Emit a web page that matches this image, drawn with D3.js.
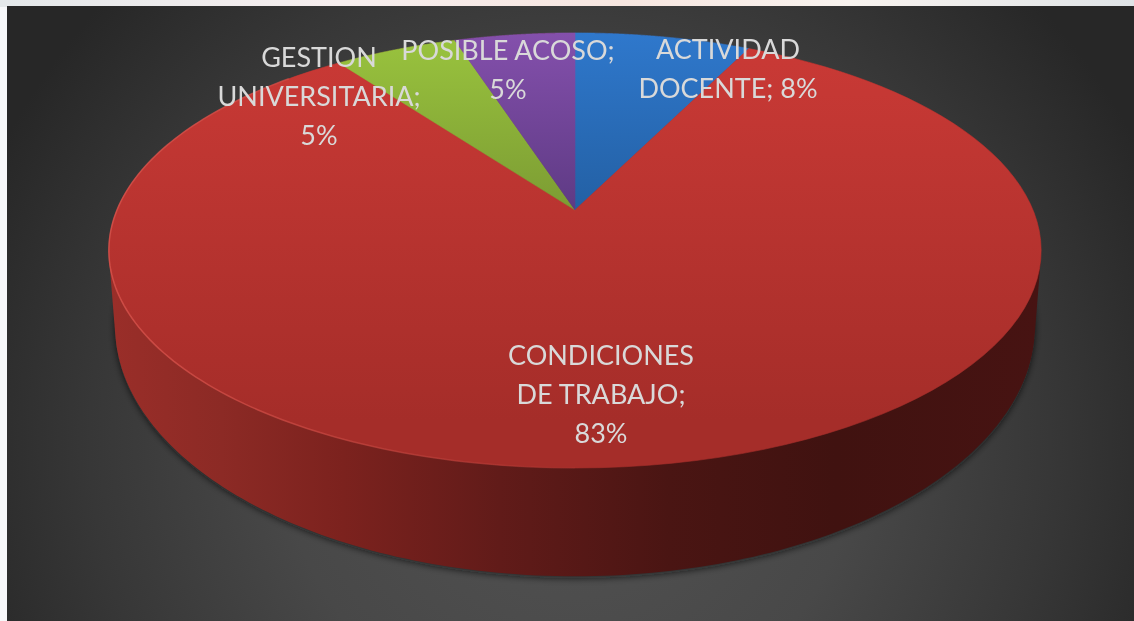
<!DOCTYPE html>
<html><head><meta charset="utf-8">
<script src="https://cdn.jsdelivr.net/npm/d3@7/dist/d3.min.js"></script>
<style>html,body{margin:0;padding:0;background:#fff;overflow:hidden}svg{display:block}</style>
</head><body><svg id="c" width="1134" height="621"></svg>
<script>
// ---- data ----
const categories = ["ACTIVIDAD DOCENTE", "CONDICIONES DE TRABAJO", "GESTION UNIVERSITARIA", "POSIBLE ACOSO"];
const values = [7.3, 82.6, 5.1, 5];          // slice sizes
const percentLabels = ["8%", "83%", "5%", "5%"];
const topColors = [["#2f78cc", "#2360a4"], ["#cb3a36", "#a52d29"], ["#9ac43e", "#7c9c33"], ["#8450ac", "#5e3a84"]];

// ---- layout (not data) ----
const W = 1134, H = 621;
const labelLines = [
  {i:0, lines:["ACTIVIDAD", "DOCENTE; " + percentLabels[0]], x:728, y:49},
  {i:1, lines:["CONDICIONES", "DE TRABAJO;", percentLabels[1]], x:601, y:355},
  {i:2, lines:["GESTION", "UNIVERSITARIA;", percentLabels[2]], x:319, y:57},
  {i:3, lines:["POSIBLE ACOSO;", percentLabels[3]], x:508, y:50}
];
const K = 0.186;
const topDisk = {cx:575, cy:210, sx:458, sy:210};
const baseDisk = {cx:575, cy:279, sx:452, sy:242};
const rimPoint = (a, r, d) => {
  const u = r * Math.sin(a), v = r * Math.cos(a), w = 1 + K * v;
  return [d.cx + d.sx * u / w, d.cy - d.sy * v / w];
};

const svg = d3.select("#c");
const defs = svg.append("defs");

// backdrop
const strip = defs.append("linearGradient").attr("id","strip").attr("x1",0).attr("x2",1);
[[0,"#e4e8ea"],[.3,"#f6eeee"],[.55,"#f7e6e0"],[.75,"#f8f3ef"],[1,"#dfe3e6"]].forEach(s=>strip.append("stop").attr("offset",s[0]).attr("stop-color",s[1]));
const bg = defs.append("radialGradient").attr("id","bg").attr("gradientUnits","userSpaceOnUse")
  .attr("cx",570).attr("cy",440).attr("r",640);
[[0,"#535353"],[.45,"#484848"],[.75,"#373737"],[1,"#272727"]].forEach(s=>bg.append("stop").attr("offset",s[0]).attr("stop-color",s[1]));

topColors.forEach((c,i)=>{
  const g = defs.append("linearGradient").attr("id","top"+i).attr("gradientUnits","userSpaceOnUse")
    .attr("x1",0).attr("x2",0).attr("y1",33).attr("y2",i===1?420:210);
  g.append("stop").attr("offset",0).attr("stop-color",c[0]);
  g.append("stop").attr("offset",1).attr("stop-color",c[1]);
});
const wall = defs.append("linearGradient").attr("id","wall").attr("gradientUnits","userSpaceOnUse")
  .attr("x1",110).attr("x2",1040).attr("y1",0).attr("y2",0);
[[0,"#9a2e29"],[.12,"#8c2a25"],[.25,"#7c221e"],[.42,"#611b19"],[.6,"#4a1513"],[.78,"#401210"],[1,"#471312"]]
  .forEach(s=>wall.append("stop").attr("offset",s[0]).attr("stop-color",s[1]));
const hi = defs.append("linearGradient").attr("id","hi").attr("gradientUnits","userSpaceOnUse")
  .attr("x1",110).attr("x2",620).attr("y1",0).attr("y2",0);
[[0,"#d8534c",.8],[.6,"#d8534c",.4],[1,"#d8534c",0]].forEach(s=>hi.append("stop").attr("offset",s[0]).attr("stop-color",s[1]).attr("stop-opacity",s[2]));
const sh = defs.append("filter").attr("id","sh").attr("x","-5%").attr("y","-5%").attr("width","110%").attr("height","115%");
sh.append("feGaussianBlur").attr("stdDeviation",3.5);
defs.append("filter").attr("id","soft").append("feGaussianBlur").attr("stdDeviation",0.45);

svg.append("rect").attr("width",W).attr("height",H).attr("fill","#f7f8fa");
svg.append("rect").attr("width",W).attr("height",7).attr("fill","url(#strip)");
svg.append("rect").attr("x",7).attr("y",6).attr("width",W-7).attr("height",H-6).attr("fill","url(#bg)");

// pie through d3
const pie = d3.pie().value(d=>d).sort(null);
const arcs = pie(values);
const line = d3.line();
const sweep = (a0,a1,d) => d3.range(0,121).map(t=>rimPoint(a0+(a1-a0)*t/120,1,d));

// shadow only under the base rim
svg.append("path").attr("d",line(sweep(0,2*Math.PI,baseDisk))+"Z")
  .attr("transform","translate(0,2)")
  .attr("fill","#101414").attr("fill-opacity",.7).attr("filter","url(#sh)");

// side wall: silhouette of the top rim and the base rim
const full = d3.range(0,361).map(t=>t*Math.PI/180);
const hull = d3.polygonHull(full.map(a=>rimPoint(a,1,topDisk)).concat(full.map(a=>rimPoint(a,1,baseDisk))));
svg.append("path").attr("d",line(hull)+"Z").attr("fill","url(#wall)");

// top face
svg.append("g").selectAll("path").data(arcs).join("path")
  .attr("d",d=>line([[topDisk.cx,topDisk.cy]].concat(sweep(d.startAngle,d.endAngle,topDisk)))+"Z")
  .attr("fill",(d,i)=>`url(#top${i})`)
  .attr("stroke",(d,i)=>`url(#top${i})`).attr("stroke-width",.6);

// rim highlight on the lit side
svg.append("path").attr("d",line(sweep(Math.PI,1.75*Math.PI,topDisk))).attr("fill","none")
  .attr("stroke","url(#hi)").attr("stroke-width",1.5);

// labels
const rows = svg.append("g").attr("filter","url(#soft)").attr("font-family","Lato, 'Open Sans', sans-serif")
  .attr("font-size",27).attr("fill","#d9d9d9").attr("text-anchor","middle");
labelLines.forEach(l=>l.lines.forEach((t,j)=>{
  rows.append("text").attr("x",l.x).attr("y",l.y+j*39.3).attr("dy","0.36em").text(t);
}));
</script></body></html>
